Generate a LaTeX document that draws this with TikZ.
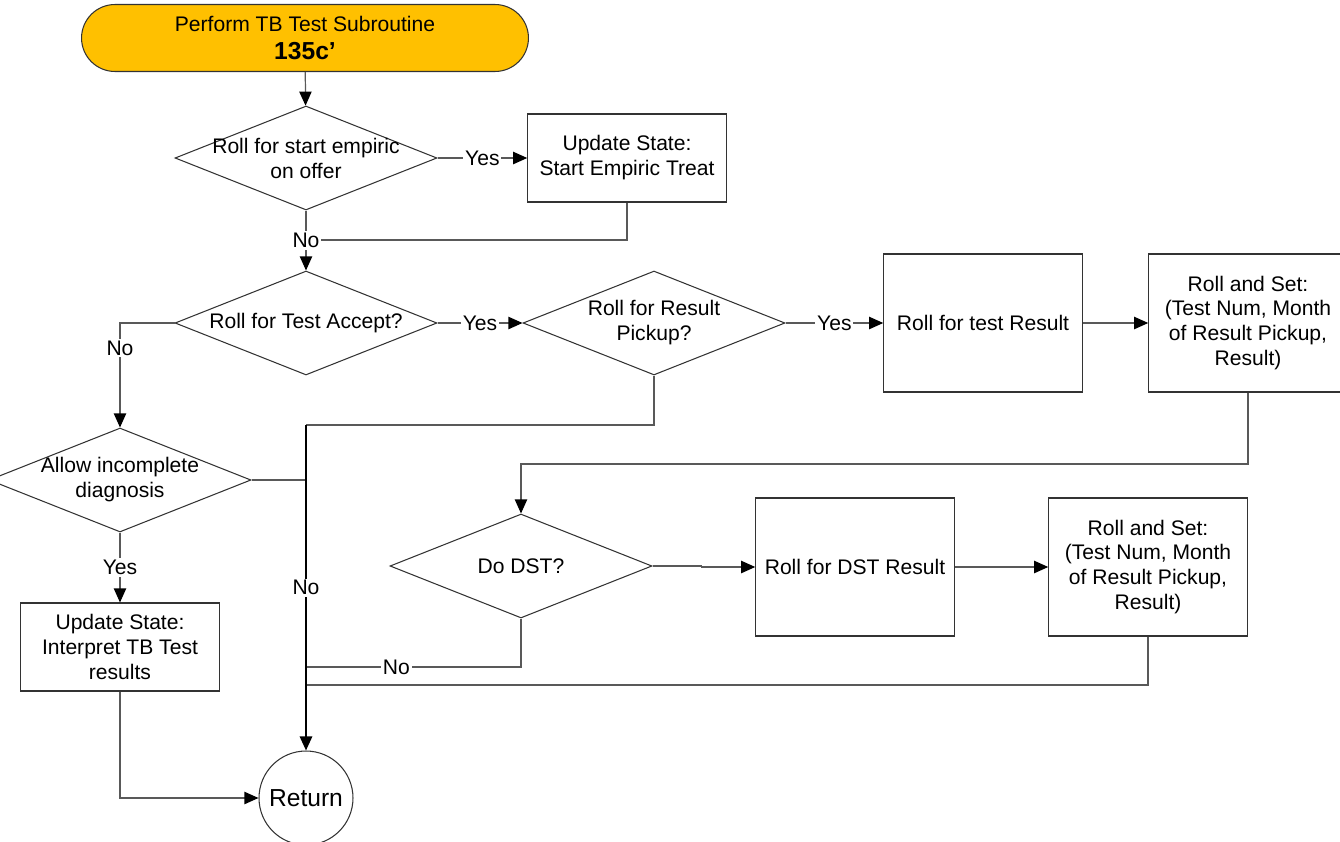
\documentclass[tikz,border=0pt]{standalone}
\usepackage{fontspec}
\setmainfont{Liberation Sans}
\usetikzlibrary{shapes.geometric,arrows.meta}
\definecolor{subgold}{HTML}{FFC000}
\begin{document}
\begin{tikzpicture}[x=0.02cm, y=-0.02cm, font=\fontsize{12}{14.2}\selectfont,
  dec/.style={draw=black!80, line width=0.6pt, diamond, minimum width=5.24cm, minimum height=2.08cm, inner sep=0pt},
  proc/.style={draw=black!80, line width=0.6pt, rectangle, align=center, minimum width=3.97cm},
  conn/.style={draw=black!65, line width=0.7pt},
  arr/.style={conn, -{Triangle[length=8pt,width=7pt,color=black]}},
  trunk/.style={draw=black, line width=1.2pt},
  lbl/.style={fill=white, inner sep=1pt}]
\useasboundingbox (0,0) rectangle (1340,842);
% TB test subroutine flow
\node[draw=black!80, line width=0.6pt, fill=subgold, rounded corners=0.67cm, minimum width=8.94cm, minimum height=1.34cm, align=center] (start) at (305,38) {Perform TB Test Subroutine\\[2pt]{\fontsize{14}{17}\selectfont\bfseries 135c’}};
\node[dec, label={[align=center]center:Roll for start empiric\\on offer}] (d1) at (306,158) {};
\node[proc, minimum height=1.76cm] (b1) at (627,158) {Update State:\\Start Empiric Treat};
\node[dec, label=center:Roll for Test Accept?] (d2) at (306,323) {};
\node[dec, label={[align=center]center:Roll for Result\\Pickup?}] (d3) at (654,323) {};
\node[proc, minimum height=2.76cm] (b2) at (983,323) {Roll for test Result};
\node[proc, minimum height=2.76cm] (b3) at (1248,323) {Roll and Set:\\(Test Num, Month\\of Result Pickup,\\Result)};
\node[dec, label={[align=center]center:Allow incomplete\\diagnosis}] (d5) at (120,480) {};
\node[dec, label=center:Do DST?] (d4) at (521,566) {};
\node[proc, minimum height=2.76cm] (b4) at (855,567) {Roll for DST Result};
\node[proc, minimum height=2.76cm] (b5) at (1148,567) {Roll and Set:\\(Test Num, Month\\of Result Pickup,\\Result)};
\node[proc, minimum height=1.76cm] (b6) at (120,647) {Update State:\\Interpret TB Test\\results};
\node[draw=black!80, line width=0.6pt, circle, minimum size=1.88cm, inner sep=0pt, font=\fontsize{14}{17}\selectfont] (ret) at (306,798) {Return};
% junctions on the way back
\coordinate (j1) at (306,240);
\coordinate (j2) at (521,464);
\coordinate (j3) at (306,425);
\coordinate (j4) at (306,667);
\coordinate (j5) at (306,685);
\coordinate (j6) at (306,480);
\draw[arr] (start) -- (d1);
\draw[conn] (b1.south) |- (j1);
\draw[arr] (d1) -- node[lbl] {No} (d2);
\draw[arr] (d1) -- node[lbl] {Yes} (b1);
\draw[arr] (d2) -- node[lbl] {Yes} (d3);
\draw[arr] (d3) -- node[lbl] {Yes} (b2);
\draw[arr] (b2) -- (b3);
\draw[arr] (b3.south) |- (j2) -- (d4.north);
\draw[arr] (d4.east) -- ++(49,0) |- (b4.west);
\draw[arr] (b4) -- (b5);
\draw[conn] (b5.south) |- (j5);
\draw[conn] (d4.south) |- node[lbl, pos=0.79] {No} (j4);
\draw[conn] (d3.south) |- (j3);
\draw[conn] (d5.east) -- (j6);
\draw[arr, trunk] (j3) -- node[lbl] {No} (ret.north);
\draw[arr] (d2.west) -| node[lbl, pos=0.62] {No} (d5.north);
\draw[arr] (d5) -- node[lbl] {Yes} (b6);
\draw[arr] (b6.south) |- (ret.west);
\end{tikzpicture}
\end{document}
